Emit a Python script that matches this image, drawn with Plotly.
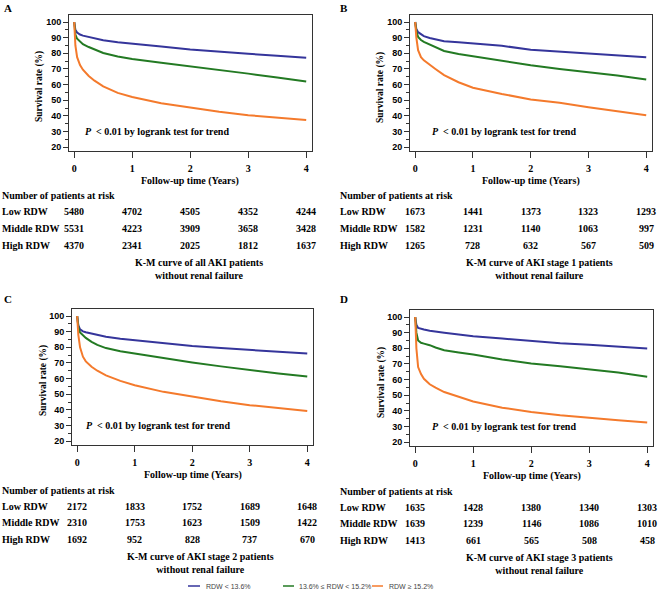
import plotly.graph_objects as go

# ---------------- data ----------------
years = [0, 0.02, 0.05, 0.1, 0.15, 0.25, 0.35, 0.5, 0.75, 1, 1.5, 2, 2.5, 3, 3.5, 4]

a_low = [100, 95, 93.3, 92, 91.3, 90.4, 89.5, 88.3, 87, 86, 84.4, 82.5, 81, 79.7, 78.5, 77.2]
a_mid = [100, 92, 89.3, 87.2, 85.8, 84, 82.5, 80.2, 78, 76.4, 74, 71.8, 69.4, 67, 64.5, 62]
a_high = [100, 85, 77.5, 72.5, 69.5, 65.5, 62.5, 58.8, 54.7, 52, 48, 45.3, 42.6, 40.4, 38.8, 37.3]

b_low = [100, 95.5, 93.5, 92, 91, 89.8, 88.8, 87.7, 87, 86.4, 84.8, 82.3, 81, 79.8, 78.4, 77.4]
b_mid = [100, 94, 90.5, 88.5, 87.3, 85.5, 83.8, 81.5, 79.5, 78, 75, 72.3, 70, 68, 65.8, 63.2]
b_high = [100, 90, 82, 77.5, 75.5, 73, 70, 66, 61.5, 58, 54, 50.5, 48.3, 45.5, 43, 40.4]

c_low = [100, 94, 91.5, 90.2, 89.6, 88.9, 88, 86.7, 85.5, 84.6, 82.9, 80.8, 79.5, 78.2, 77, 76]
c_mid = [100, 93, 89.5, 87.5, 86, 83.5, 81.5, 79.5, 77.5, 76, 73, 70.3, 67.8, 65.3, 63.2, 61.3]
c_high = [100, 88, 80, 74, 71, 67.5, 65, 62, 58.5, 55.7, 51.5, 48.3, 45.5, 43, 41, 39.3]

d_low = [100, 95, 93, 92.3, 92, 91.2, 90.6, 90, 88.8, 87.7, 86.2, 84.7, 83.2, 82.3, 81, 79.8]
d_mid = [100, 90, 85, 83.5, 83, 82, 80.5, 78.8, 77.3, 76, 72.8, 70.3, 68.5, 66.7, 64.5, 61.8]
d_high = [100, 80, 68, 63.5, 60.5, 57, 54.8, 52, 49, 46, 42, 39.3, 37.2, 35.4, 34, 32.5]

risk_years = [0, 1, 2, 3, 4]
a_risk_low = [5480, 4702, 4505, 4352, 4244]
a_risk_mid = [5531, 4223, 3909, 3658, 3428]
a_risk_high = [4370, 2341, 2025, 1812, 1637]
b_risk_low = [1673, 1441, 1373, 1323, 1293]
b_risk_mid = [1582, 1231, 1140, 1063, 997]
b_risk_high = [1265, 728, 632, 567, 509]
c_risk_low = [2172, 1833, 1752, 1689, 1648]
c_risk_mid = [2310, 1753, 1623, 1509, 1422]
c_risk_high = [1692, 952, 828, 737, 670]
d_risk_low = [1635, 1428, 1380, 1340, 1303]
d_risk_mid = [1639, 1239, 1146, 1086, 1010]
d_risk_high = [1413, 661, 565, 508, 458]

group_names = ["RDW < 13.6%", "13.6% \u2264 RDW < 15.2%", "RDW \u2265 15.2%"]
row_labels = ["Low RDW", "Middle RDW", "High RDW"]
panel_letters = ["A", "B", "C", "D"]
panel_titles = [
    "K-M curve of all AKI patients<br>without renal failure",
    "K-M curve of AKI stage 1 patients<br>without renal failure",
    "K-M curve of AKI stage 2 patients<br>without renal failure",
    "K-M curve of AKI stage 3 patients<br>without renal failure",
]
y_ticks = [20, 30, 40, 50, 60, 70, 80, 90, 100]
x_ticks = [0, 1, 2, 3, 4]

# ---------------- styling / layout helpers ----------------
W, H = 658, 593
colors = ["#35359b", "#237a23", "#f47a2c"]
SERIF = "Liberation Serif, Times New Roman, serif"
SANS = "Liberation Sans, Arial, sans-serif"


def px(v):
    return v / W


def py(v):
    return 1 - v / H


panels = [
    dict(curves=[a_low, a_mid, a_high], risk=[a_risk_low, a_risk_mid, a_risk_high],
         xd=(69, 312), yd=(15, 151), letter=(2, 8), lab_x=0, ptx=0.15),
    dict(curves=[b_low, b_mid, b_high], risk=[b_risk_low, b_risk_mid, b_risk_high],
         xd=(410, 652), yd=(15, 151), letter=(338, 8), lab_x=338, ptx=0.26),
    dict(curves=[c_low, c_mid, c_high], risk=[c_risk_low, c_risk_mid, c_risk_high],
         xd=(72, 313), yd=(309, 445), letter=(2, 299), lab_x=0, ptx=0.11),
    dict(curves=[d_low, d_mid, d_high], risk=[d_risk_low, d_risk_mid, d_risk_high],
         xd=(410, 653), yd=(310, 446), letter=(338, 299), lab_x=338, ptx=0.26),
]

fig = go.Figure()
annotations = []
shapes = []

for i, p in enumerate(panels):
    sfx = "" if i == 0 else str(i + 1)
    xa, ya = "x" + sfx, "y" + sfx
    for g in range(3):
        fig.add_trace(go.Scatter(
            x=years, y=p["curves"][g], mode="lines", name=group_names[g],
            line=dict(color=colors[g], width=2), xaxis=xa, yaxis=ya,
            showlegend=False, hoverinfo="skip"))

    axis_common = dict(showline=True, linecolor="#333333", linewidth=1, mirror=True,
                       showgrid=False, zeroline=False, ticks="outside",
                       tickcolor="#333333", ticklen=5)
    fig.update_layout(**{
        "xaxis" + sfx: dict(axis_common, domain=[px(p["xd"][0]), px(p["xd"][1])],
                            anchor=ya, range=[-0.09, 4.1], tickvals=x_ticks,
                            ticklen=6, ticklabelstandoff=2,
                            tickfont=dict(family=SERIF, size=10, color="black", weight="bold")),
        "yaxis" + sfx: dict(axis_common, domain=[py(p["yd"][1]), py(p["yd"][0])],
                            anchor=xa, range=[17.5, 104.5], tickvals=y_ticks,
                            minor=dict(ticks="outside", ticklen=3, dtick=5, tick0=0,
                                       tickcolor="#333333"),
                            tickfont=dict(family=SANS, size=9, color="black", weight="bold")),
    })

    xc = (p["xd"][0] + p["xd"][1]) / 2
    top = p["yd"][0]
    bot = p["yd"][1]

    # panel letter
    annotations.append(dict(text="<b>" + panel_letters[i] + "</b>", x=px(p["letter"][0]),
                            y=py(p["letter"][1]), xref="paper", yref="paper",
                            xanchor="left", yanchor="middle", showarrow=False,
                            font=dict(family=SERIF, size=11, color="black")))
    # y-axis title
    annotations.append(dict(text="<b>Survival rate (%)</b>", x=px(p["xd"][0] - 29),
                            y=py((top + bot) / 2 + 4), xref="paper", yref="paper",
                            textangle=-90, xanchor="center", yanchor="middle",
                            showarrow=False, font=dict(family=SERIF, size=9.5, color="black")))
    # x-axis title
    annotations.append(dict(text="<b>Follow-up time (Years)</b>", x=px(xc),
                            y=py(bot + 30), xref="paper", yref="paper",
                            xanchor="center", yanchor="middle", showarrow=False,
                            font=dict(family=SERIF, size=10, color="black")))
    # p-value text
    annotations.append(dict(text="<b><i>P</i>  < 0.01 by logrank test for trend</b>",
                            x=p["ptx"], y=30, xref=xa, yref=ya, xanchor="left",
                            yanchor="middle", showarrow=False,
                            font=dict(family=SERIF, size=10, color="black")))
    # risk table
    annotations.append(dict(text="<b>Number of patients at risk</b>", x=px(p["lab_x"]),
                            y=py(bot + 45), xref="paper", yref="paper",
                            xanchor="left", yanchor="middle", showarrow=False,
                            font=dict(family=SERIF, size=10, color="black")))
    for r in range(3):
        ry = py(bot + 61 + r * 16.5)
        annotations.append(dict(text="<b>" + row_labels[r] + "</b>", x=px(p["lab_x"]),
                                y=ry, xref="paper", yref="paper", xanchor="left",
                                yanchor="middle", showarrow=False,
                                font=dict(family=SERIF, size=10, color="black")))
        for k, t in enumerate(risk_years):
            annotations.append(dict(text="<b>%d</b>" % p["risk"][r][k], x=t, y=ry,
                                    xref=xa, yref="paper", xanchor="center",
                                    yanchor="middle", showarrow=False,
                                    font=dict(family=SERIF, size=10, color="black")))
    # panel caption
    annotations.append(dict(text="<b>" + panel_titles[i] + "</b>", x=px(xc + 8),
                            y=py(bot + 118), xref="paper", yref="paper",
                            xanchor="center", yanchor="middle", showarrow=False,
                            font=dict(family=SERIF, size=10, color="black")))

# legend (swatches + labels)
leg_items = [(188, 200, 204), (283, 294, 297), (372, 383, 387)]
for g, (x0, x1, xt) in enumerate(leg_items):
    shapes.append(dict(type="line", xref="paper", yref="paper", x0=px(x0), x1=px(x1),
                       y0=py(586), y1=py(586), line=dict(color=colors[g], width=1.5)))
    annotations.append(dict(text=group_names[g], x=px(xt), y=py(586), xref="paper",
                            yref="paper", xanchor="left", yanchor="middle",
                            showarrow=False,
                            font=dict(family=SANS, size=7, color="#444444")))

fig.update_layout(width=W, height=H, margin=dict(l=0, r=0, t=0, b=0),
                  paper_bgcolor="white", plot_bgcolor="white", showlegend=False,
                  annotations=annotations, shapes=shapes)

fig.write_html("out.html", config={"displayModeBar": False},
               post_script="document.body.style.margin='0';document.body.style.padding='0';")
